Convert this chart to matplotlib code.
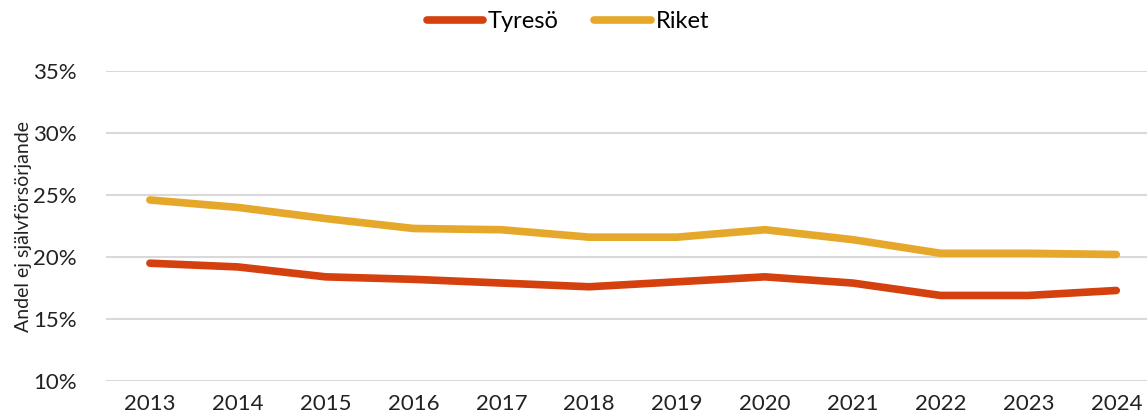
import matplotlib
matplotlib.use("Agg")
import matplotlib.pyplot as plt
from matplotlib.ticker import PercentFormatter

plt.rcParams['font.family'] = ['Lato', 'DejaVu Sans']

years = ['2013', '2014', '2015', '2016', '2017', '2018',
         '2019', '2020', '2021', '2022', '2023', '2024']
tyreso = [19.5, 19.2, 18.4, 18.2, 17.9, 17.6, 18.0, 18.4, 17.9, 16.9, 16.9, 17.3]
riket = [24.6, 24.0, 23.1, 22.3, 22.2, 21.6, 21.6, 22.2, 21.4, 20.3, 20.3, 20.2]

fig = plt.figure(figsize=(11.47, 4.20), dpi=100)
ax = fig.add_axes([106 / 1147, 39 / 420, 1 - 106 / 1147, 310 / 420])

x = range(len(years))
ax.plot(x, tyreso, color='#D5400F', lw=5.5, solid_capstyle='round',
        solid_joinstyle='round', label='Tyresö', zorder=3)
ax.plot(x, riket, color='#E5A82A', lw=5.5, solid_capstyle='round',
        solid_joinstyle='round', label='Riket', zorder=3)

ax.set_ylim(10, 35)
ax.set_yticks([10, 15, 20, 25, 30, 35])
ax.yaxis.set_major_formatter(PercentFormatter(decimals=0))
ax.set_xlim(-0.5, 11.35)
ax.set_xticks(list(x))
ax.set_xticklabels(years)
ax.grid(axis='y', color='#D9D9D9', lw=1.5)
ax.set_axisbelow(True)
for s in ax.spines.values():
    s.set_visible(False)
ax.tick_params(length=0, labelsize=16, colors='#222222', pad=9)
ax.tick_params(axis='y', pad=21)
ax.set_ylabel('Andel ej självförsörjande', fontsize=14, color='#222222', labelpad=1)

fig.legend(loc='center', bbox_to_anchor=(568 / 1147, 1 - 22 / 420), ncol=2,
           frameon=False, fontsize=17, handlelength=2.4, columnspacing=1.5,
           handletextpad=0.2)

fig.savefig('out.png', dpi=100)
